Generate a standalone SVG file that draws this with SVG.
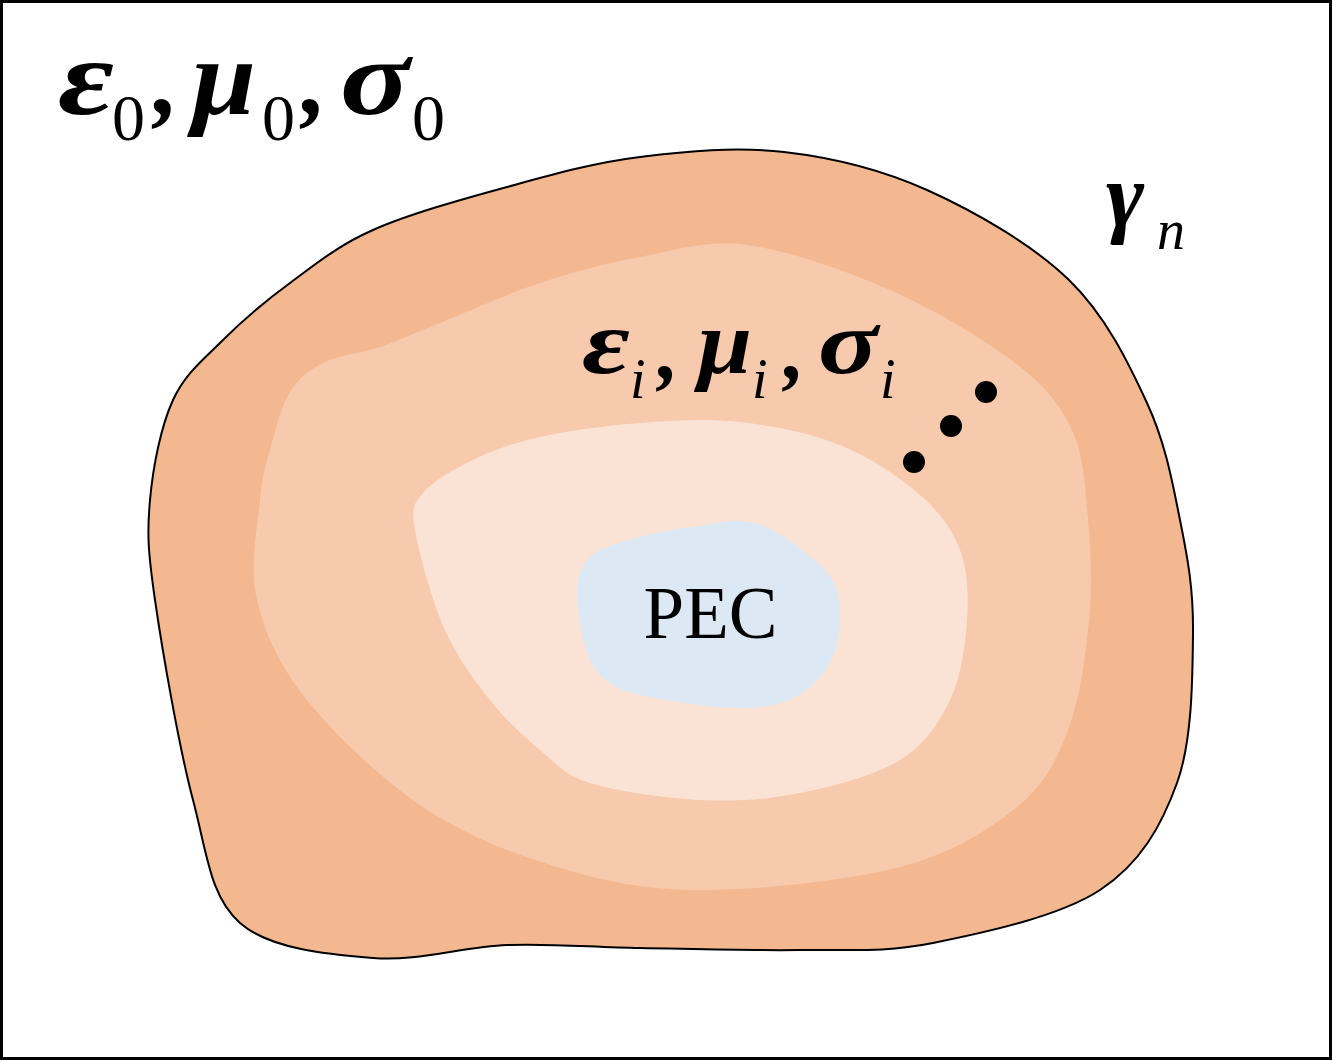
<svg xmlns="http://www.w3.org/2000/svg" width="1332" height="1060" viewBox="0 0 1332 1060">
<style>
.g{font-family:"Liberation Serif","Times New Roman",serif;font-style:italic;font-weight:bold;fill:#000}
.m{font-family:"Liberation Serif","Times New Roman",serif;font-style:italic;fill:#000}
.r{font-family:"Liberation Serif","Times New Roman",serif;fill:#000}
</style>
<rect x="1.5" y="1.5" width="1329" height="1057" fill="#fff" stroke="#000" stroke-width="3"/>
<g id="outer">
<path d="M150,500 C153,466.7 160.8,426.7 173,400 C185.2,373.3 203.5,359.5 223,340 C242.5,320.5 265,301.3 290,283 C315,264.7 336.8,246 373,230 C409.2,214 462.5,199.2 507,187 C551.5,174.8 593.8,162.7 640,157 C686.2,151.3 736.2,146.5 784,152 C831.8,157.5 879.5,168.7 927,190 C974.5,211.3 1032.3,244.5 1069,280 C1105.7,315.5 1128.5,363 1147,403 C1165.5,443 1172.3,481.7 1180,520 C1187.7,558.3 1193.5,589.2 1193,633 C1192.5,676.8 1192.5,740.2 1177,783 C1161.5,825.8 1140.7,863.3 1100,890 C1059.3,916.7 983,933 933,943 C883,953 848.8,949.2 800,950 C751.2,950.8 688.8,948.8 640,948 C591.2,947.2 551.5,943.3 507,945 C462.5,946.7 417.5,961.7 373,958 C328.5,954.3 270,949.3 240,923 C210,896.7 207.2,853.8 193,800 C178.8,746.2 162.2,650 155,600 C147.8,550 147,533.3 150,500 Z" fill="#F4B890" stroke="#000" stroke-width="2"/>
</g>
<g id="middle">
<path d="M260,500 C262.2,475 265,468 270,450 C275,432 280.8,406.7 290,392 C299.2,377.3 310,369.5 325,362 C340,354.5 360.8,353.5 380,347 C399.2,340.5 413.3,333.7 440,323 C466.7,312.3 506.7,294 540,283 C573.3,272 605.5,263.3 640,257 C674.5,250.7 705.3,239.5 747,245 C788.7,250.5 845.3,270.3 890,290 C934.7,309.7 984.7,339.7 1015,363 C1045.3,386.3 1059.8,403.8 1072,430 C1084.2,456.2 1085.2,488.3 1088,520 C1090.8,551.7 1092.3,585 1089,620 C1085.7,655 1080,698.8 1068,730 C1056,761.2 1045,784.2 1017,807 C989,829.8 952.8,853.2 900,867 C847.2,880.8 757.2,890 700,890 C642.8,890 603.2,880.8 557,867 C510.8,853.2 464.7,834.8 423,807 C381.3,779.2 334.7,734.5 307,700 C279.3,665.5 264.8,633.3 257,600 C249.2,566.7 257.8,525 260,500 Z" fill="#F7CAAD"/>
</g>
<g id="inner">
<path d="M415,530 C411.3,507.2 413.3,504.7 423,493 C432.7,481.3 453.5,469.3 473,460 C492.5,450.7 512.2,443.2 540,437 C567.8,430.8 606.7,425.5 640,423 C673.3,420.5 706.7,418.3 740,422 C773.3,425.7 810,432.8 840,445 C870,457.2 900,477.5 920,495 C940,512.5 952.2,529.2 960,550 C967.8,570.8 968.7,595 967,620 C965.3,645 961.2,676.7 950,700 C938.8,723.3 925,744.5 900,760 C875,775.5 833.3,786.3 800,793 C766.7,799.7 735,801.7 700,800 C665,798.3 616.7,791.3 590,783 C563.3,774.7 556.7,763.8 540,750 C523.3,736.2 505.8,720 490,700 C474.2,680 457.5,658.3 445,630 C432.5,601.7 418.7,552.8 415,530 Z" fill="#FAE3D5"/>
</g>
<g id="pec">
<path d="M577,590 C577,575 585,557 600,550 C615,543 660,530 693,527 C713,524 728,518 750,522 C775,526 800,548 820,565 C838,582 841,600 840,617 C840,640 835,660 820,677 C805,695 785,706 750,708 C720,709 680,703 640,695 C610,688 595,675 588,655 C580,630 577,610 577,590 Z" fill="#DCE8F4"/>
<text class="r" x="710.5" y="638" font-size="73" text-anchor="middle">PEC</text>
</g>
<g id="dots">
<circle cx="986" cy="392" r="11"/>
<circle cx="951" cy="426" r="11"/>
<circle cx="914" cy="462" r="11"/>
</g>
<g id="label0">
<text class="g" x="58" y="114" font-size="108" textLength="56" lengthAdjust="spacingAndGlyphs">ε</text>
<text class="r" x="112" y="140" font-size="66">0</text>
<text class="g" x="154" y="114" font-size="100">,</text>
<text class="g" x="192" y="114" font-size="108" textLength="64" lengthAdjust="spacingAndGlyphs">μ</text>
<text class="r" x="262" y="140" font-size="66">0</text>
<text class="g" x="302" y="114" font-size="100">,</text>
<text class="g" x="340" y="114" font-size="108" textLength="70" lengthAdjust="spacingAndGlyphs">σ</text>
<text class="r" x="412" y="140" font-size="66">0</text>
</g>
<g id="labeli">
<text class="g" x="582" y="373" font-size="90" textLength="48" lengthAdjust="spacingAndGlyphs">ε</text>
<text class="m" x="630" y="398" font-size="56">i</text>
<text class="g" x="658" y="378" font-size="84">,</text>
<text class="g" x="698" y="373" font-size="90" textLength="54" lengthAdjust="spacingAndGlyphs">μ</text>
<text class="m" x="752" y="398" font-size="56">i</text>
<text class="g" x="784" y="378" font-size="84">,</text>
<text class="g" x="818" y="373" font-size="90" textLength="60" lengthAdjust="spacingAndGlyphs">σ</text>
<text class="m" x="880" y="398" font-size="56">i</text>
</g>
<g id="gamma">
<text class="g" x="1106" y="226" font-size="92">γ</text>
<text class="m" x="1157" y="249" font-size="56">n</text>
</g>
</svg>
